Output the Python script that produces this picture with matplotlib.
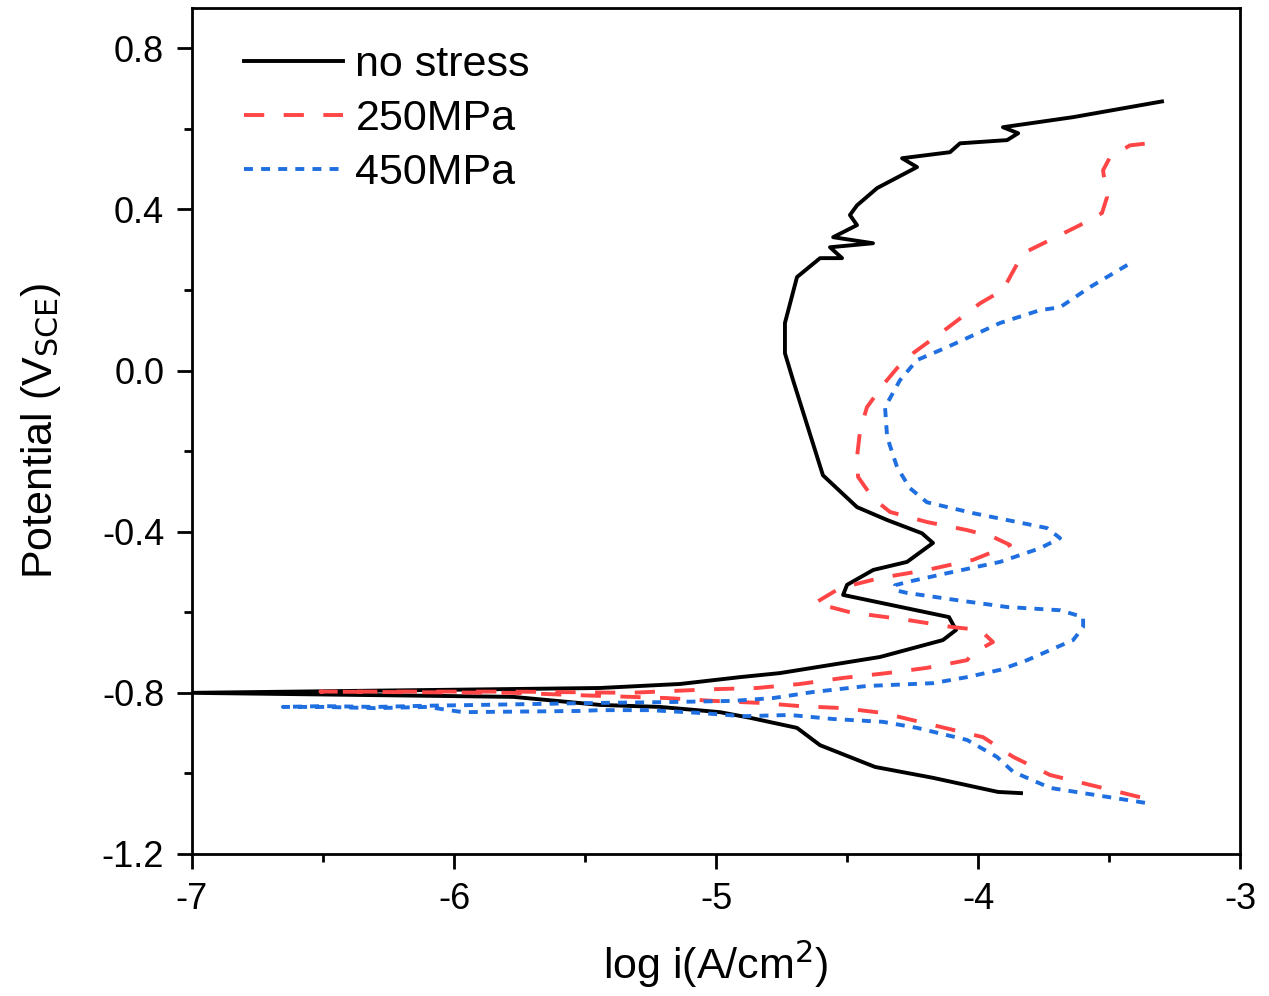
import matplotlib.pyplot as plt

plt.rcParams['font.family'] = ['Liberation Sans', 'DejaVu Sans']

# no stress: log i (A/cm2) and potential (V_SCE), cathodic end -> anodic end
ns_logi = [-3.836, -3.924, -4.172, -4.393, -4.603, -4.691, -4.870, -4.985, -5.214, -5.443,
           -5.775, -7.0,
           -5.443, -5.137, -4.908, -4.756, -4.374, -4.134, -4.084, -4.111, -4.515, -4.500,
           -4.400, -4.271, -4.172, -4.214, -4.347, -4.462, -4.592, -4.706, -4.737, -4.737,
           -4.691, -4.603, -4.519, -4.565, -4.401, -4.553, -4.462, -4.489, -4.462, -4.385,
           -4.233, -4.290, -4.107, -4.069, -3.889, -3.847, -3.905, -3.637, -3.298]
ns_pot = [-1.049, -1.046, -1.011, -0.984, -0.930, -0.887, -0.862, -0.848, -0.835, -0.830,
          -0.810, -0.800,
          -0.788, -0.778, -0.761, -0.751, -0.711, -0.669, -0.644, -0.612, -0.557, -0.532,
          -0.495, -0.475, -0.428, -0.404, -0.371, -0.339, -0.260, -0.024, 0.043, 0.118,
          0.232, 0.279, 0.279, 0.306, 0.316, 0.331, 0.361, 0.386, 0.410, 0.453,
          0.505, 0.527, 0.542, 0.564, 0.572, 0.589, 0.604, 0.629, 0.668]

# 250 MPa
s250_logi = [-3.382, -3.725, -3.866, -3.981, -4.172, -4.363, -4.515, -4.679, -4.832, -5.011,
             -5.187, -5.328, -5.519, -5.775, -6.510,
             -5.775, -5.328, -5.011, -4.844, -4.679, -4.515, -4.347, -4.195, -4.042, -4.019,
             -3.943, -3.992, -4.095, -4.271, -4.489, -4.622, -4.527, -4.374, -4.195, -4.019,
             -3.878, -3.943, -4.042, -4.195, -4.336, -4.401, -4.458, -4.462, -4.450, -4.424,
             -4.363, -4.309, -4.248, -4.118, -3.992, -3.905, -3.870, -3.828, -3.611, -3.527,
             -3.508, -3.523, -3.496, -3.420, -3.351]
s250_pot = [-1.059, -1.004, -0.959, -0.910, -0.880, -0.850, -0.838, -0.833, -0.825, -0.820,
            -0.813, -0.810, -0.806, -0.800, -0.797,
            -0.797, -0.800, -0.791, -0.788, -0.778, -0.763, -0.751, -0.738, -0.719, -0.701,
            -0.674, -0.644, -0.637, -0.619, -0.600, -0.577, -0.540, -0.515, -0.495, -0.470,
            -0.433, -0.413, -0.396, -0.376, -0.351, -0.317, -0.264, -0.215, -0.148, -0.091,
            -0.036, 0.006, 0.043, 0.105, 0.167, 0.200, 0.242, 0.291, 0.361, 0.391,
            0.430, 0.497, 0.530, 0.559, 0.564]

# 450 MPa
s450_logi = [-3.363, -3.725, -3.866, -3.928, -4.042, -4.233, -4.363, -4.553, -4.718, -4.897,
             -5.061, -5.252, -5.443, -5.519, -5.966, -6.050, -6.100, -6.300, -6.500, -6.653,
             -6.500, -6.300, -6.100, -5.900, -5.443, -5.187, -4.935, -4.782, -4.630, -4.424,
             -4.172, -4.042, -3.916, -3.813, -3.637, -3.599, -3.599, -3.687, -3.889, -4.080,
             -4.271, -4.317, -4.317, -4.271, -4.118, -3.916, -3.763, -3.687, -3.737, -3.851,
             -4.019, -4.195, -4.260, -4.309, -4.347, -4.355, -4.298, -4.233, -4.118, -3.916,
             -3.763, -3.687, -3.573, -3.420]
s450_pot = [-1.073, -1.036, -0.996, -0.959, -0.917, -0.887, -0.872, -0.865, -0.855, -0.858,
            -0.850, -0.843, -0.843, -0.845, -0.848, -0.840, -0.835, -0.838, -0.835, -0.835,
            -0.833, -0.835, -0.832, -0.830, -0.825, -0.823, -0.820, -0.813, -0.798, -0.783,
            -0.776, -0.761, -0.743, -0.719, -0.669, -0.637, -0.612, -0.595, -0.587, -0.570,
            -0.552, -0.545, -0.533, -0.525, -0.503, -0.475, -0.441, -0.416, -0.391, -0.376,
            -0.354, -0.327, -0.292, -0.240, -0.165, -0.091, -0.024, 0.026, 0.058, 0.118,
            0.150, 0.157, 0.207, 0.266]

fig = plt.figure(figsize=(12.69, 9.96), dpi=100)
ax = fig.add_axes([0.1513, 0.1426, 0.8259, 0.8494])

ax.plot(ns_logi, ns_pot, color='black', lw=2.8, label='no stress')
ax.plot(s250_logi, s250_pot, color='#FF4545', lw=2.8, dashes=(5.2, 5.0), label='250MPa')
ax.plot(s450_logi, s450_pot, color='#1F6FE0', lw=2.8, dashes=(2.3, 2.1), label='450MPa')

ax.set_xlim(-7, -3)
ax.set_ylim(-1.2, 0.9)
ax.set_xticks([-7, -6, -5, -4, -3])
ax.set_xticklabels(['-7', '-6', '-5', '-4', '-3'])
ax.set_xticks([-6.5, -5.5, -4.5, -3.5], minor=True)
ax.set_yticks([-1.2, -0.8, -0.4, 0.0, 0.4, 0.8])
ax.set_yticklabels(['-1.2', '-0.8', '-0.4', '0.0', '0.4', '0.8'])
ax.set_yticks([-1.0, -0.6, -0.2, 0.2, 0.6], minor=True)
ax.tick_params(which='major', direction='out', length=11, width=2, labelsize=26, pad=9)
ax.tick_params(which='minor', direction='out', length=6, width=2)
for s in ax.spines.values():
    s.set_linewidth(2)

ax.set_xlabel('log i(A/cm$^2$)', fontsize=31, labelpad=16)
ax.set_ylabel('Potential (V$_{\\mathrm{SCE}}$)', fontsize=31, labelpad=28)

ax.legend(loc='upper left', frameon=False, fontsize=31, handlelength=2.3,
          handletextpad=0.28, labelspacing=0.32, borderaxespad=0, borderpad=0,
          bbox_to_anchor=(0.05, 0.956))

fig.savefig('out.png', dpi=100)
